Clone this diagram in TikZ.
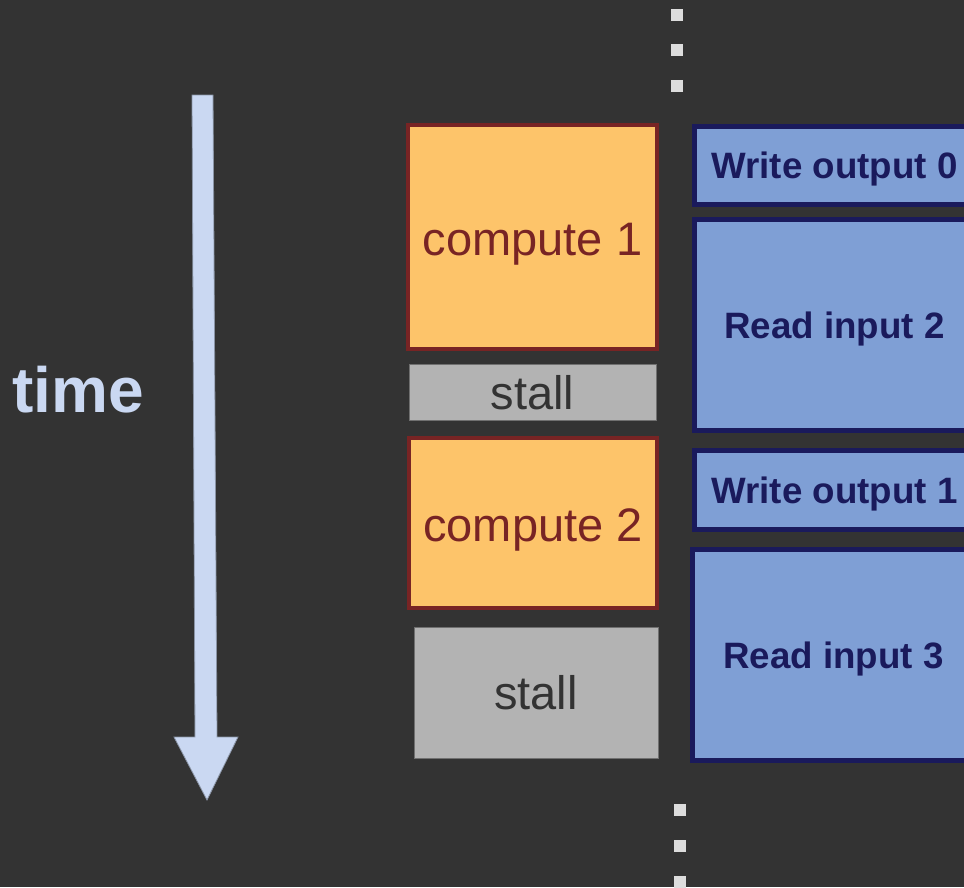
\documentclass[tikz,border=0pt]{standalone}
\usepackage{fontspec}
\setmainfont{Liberation Sans}
\definecolor{bg}{HTML}{333333}
\definecolor{dotgrey}{HTML}{DDDDDD}
\definecolor{timeblue}{HTML}{CAD8F2}
\definecolor{arrowedge}{HTML}{8A94A6}
\definecolor{computefill}{HTML}{FDC46A}
\definecolor{computeline}{HTML}{782424}
\definecolor{stallfill}{HTML}{B3B3B3}
\definecolor{stallline}{HTML}{707070}
\definecolor{stalltext}{HTML}{333333}
\definecolor{iofill}{HTML}{7F9FD5}
\definecolor{ioline}{HTML}{1A1A5C}
\tikzset{
  box/.style={rectangle, inner sep=0pt, outer sep=0pt, align=center, text depth=0pt},
  computebox/.style={box, fill=computefill, draw=computeline, line width=4pt,
    text=computeline, font=\fontsize{47}{50}\selectfont, text height=37.6pt},
  stallbox/.style={box, fill=stallfill, draw=stallline, line width=1pt,
    text=stalltext, font=\fontsize{47}{50}\selectfont, text height=34.8pt},
  iobox/.style={box, fill=iofill, draw=ioline, line width=5pt,
    text=ioline, font=\fontsize{36.7}{40}\selectfont\bfseries, text height=26.4pt},
  dotsq/.style={rectangle, fill=dotgrey, minimum size=12pt, inner sep=0pt},
}
\begin{document}
\begin{tikzpicture}[x=1pt, y=-1pt]
  \useasboundingbox (0,0) rectangle (964,887);
  \fill[bg] (0,0) rectangle (964,887);
  \clip (0,0) rectangle (964,887);

  % time axis: label and broad downward arrow
  \node[text=timeblue, font=\fontsize{64}{68}\selectfont\bfseries, inner sep=0pt]
    (time) at (78,390) {time};
  \filldraw[fill=timeblue, draw=arrowedge, line width=0.8pt]
    (192,95) -- (213,95) -- (217,737) -- (238,737) -- (207,800)
    -- (174,737) -- (195,737) -- cycle;

  % compute / stall column
  \node[computebox, minimum width=249pt, minimum height=224pt] (c1) at (532.5,237) {compute 1};
  \node[stallbox, minimum width=247pt, minimum height=56pt] (s1) at (532.5,392) {stall};
  \node[computebox, minimum width=248pt, minimum height=170pt] (c2) at (533,523) {compute 2};
  \node[stallbox, minimum width=244pt, minimum height=131pt] (s2) at (536,692.5) {stall};

  % I/O column
  \node[iobox, minimum width=280pt, minimum height=78pt] (w0) at (834.5,165.5) {Write output 0};
  \node[iobox, minimum width=280pt, minimum height=211pt] (r2) at (834.5,325) {Read input 2};
  \node[iobox, minimum width=280pt, minimum height=79pt] (w1) at (834.5,490) {Write output 1};
  \node[iobox, minimum width=282pt, minimum height=211pt] (r3) at (833.5,655) {Read input 3};

  % continuation dots
  \foreach \i/\y in {1/15,2/50,3/86} \node[dotsq] (top\i) at (677,\y) {};
  \foreach \i/\y in {1/810,2/846,3/882} \node[dotsq] (bot\i) at (680,\y) {};
\end{tikzpicture}
\end{document}
